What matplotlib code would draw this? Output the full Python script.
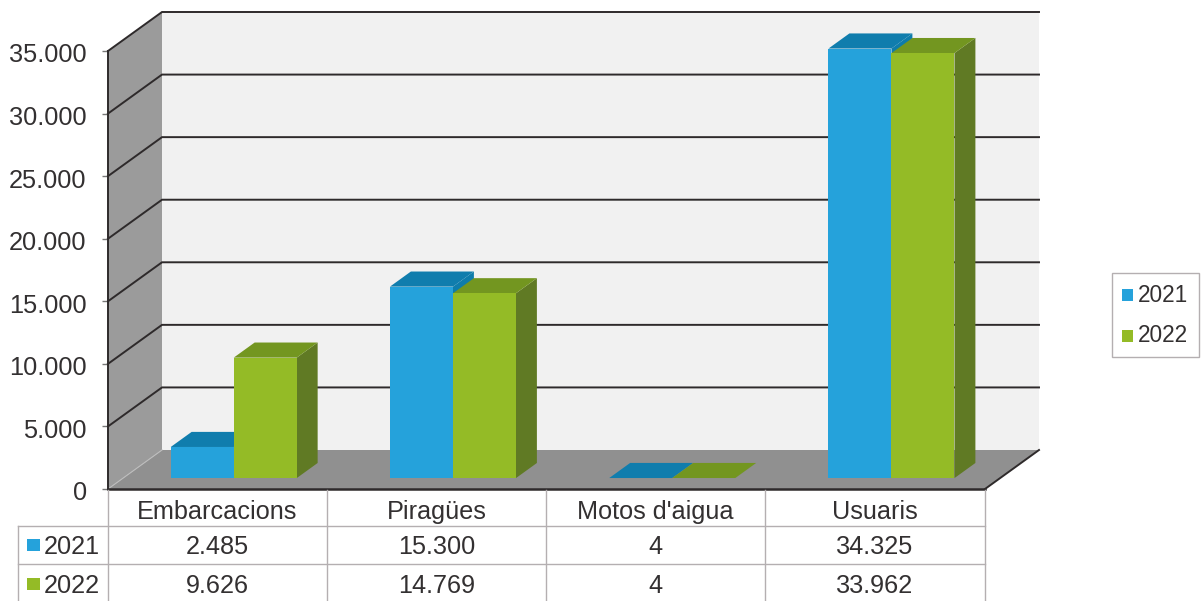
import matplotlib
matplotlib.use('Agg')
import matplotlib.pyplot as plt
from matplotlib.patches import Polygon, Rectangle
from matplotlib.transforms import Affine2D, ScaledTranslation

plt.rcParams['font.family'] = ['Liberation Sans', 'DejaVu Sans']

# data
categories = ['Embarcacions', 'Piragües', "Motos d'aigua", 'Usuaris']
years = ['2021', '2022']
values_2021 = [2485, 15300, 4, 34325]
values_2022 = [9626, 14769, 4, 33962]
yticks = [0, 5000, 10000, 15000, 20000, 25000, 30000, 35000]

blue = ['#25A2DB', '#107DAD', '#0E7CAB']
green = ['#94BB26', '#739620', '#607A24']
TXT = '#333031'
LINE = '#2E2A2B'
CELL = '#B4AFB1'


def fmt(v):
    return f'{v:,}'.replace(',', '.')


fig = plt.figure(figsize=(12.01, 6.01), dpi=100)
W, H = 1201, 601
# axes = front plane of the 3d box
ax = fig.add_axes([108 / W, 1 - 489 / H, 877 / W, 438 / H])
ax.set_xlim(0, 4)
ax.set_ylim(0, 35000)
ax.patch.set_visible(False)

# depth of the box in data units
UNIT = 877 / 4
DX = 54 / UNIT
DY = 39 / (438 / 35000)
BAR_W = 63 / UNIT
SHIFT = 1 / UNIT
D0, D1 = 0.28, 0.667


def pt(x, y, d=0.0):
    return (x + d * DX, y + d * DY)


def poly(points, color, z, ec='none', lw=0):
    ax.add_patch(Polygon(points, closed=True, fc=color, ec=ec, lw=lw, zorder=z,
                         clip_on=False))


# walls and floor
poly([pt(0, 0, 1), pt(4, 0, 1), pt(4, 35000, 1), pt(0, 35000, 1)], '#F1F1F1', 1)
poly([pt(0, 0), pt(0, 0, 1), pt(0, 35000, 1), pt(0, 35000)], '#9B9B9B', 1)
poly([pt(0, 0), pt(4, 0), pt(4, 0, 1), pt(0, 0, 1)], '#909090', 1)

for t in yticks[1:]:
    xs, ys = zip(pt(0, t), pt(0, t, 1), pt(4, t, 1))
    ax.plot(xs, ys, color=LINE, lw=1.4, zorder=2, clip_on=False, solid_joinstyle='miter')
xs, ys = zip(pt(0, 0), pt(0, 0, 1))
ax.plot(xs, ys, color='#BDBDBD', lw=0.8, zorder=2, clip_on=False)
xs, ys = zip(pt(4, 0), pt(4, 0, 1))
ax.plot(xs, ys, color=LINE, lw=1.4, zorder=2, clip_on=False)


# bars
def bar3d(x0, v, cols, z):
    x1 = x0 + BAR_W
    poly([pt(x1, 0, D0), pt(x1, 0, D1), pt(x1, v, D1), pt(x1, v, D0)], cols[2], z)
    poly([pt(x0, v, D0), pt(x1, v, D0), pt(x1, v, D1), pt(x0, v, D1)], cols[1], z)
    poly([pt(x0, 0, D0), pt(x1, 0, D0), pt(x1, v, D0), pt(x0, v, D0)], cols[0], z)


for i in range(len(categories)):
    bar3d(i + 0.5 - BAR_W + SHIFT, values_2021[i], blue, 3 + i * 0.1)
    bar3d(i + 0.5 + SHIFT, values_2022[i], green, 3.05 + i * 0.1)

# axes
for s in ['top', 'right']:
    ax.spines[s].set_visible(False)
for s in ['left', 'bottom']:
    ax.spines[s].set_color(LINE)
    ax.spines[s].set_zorder(5)
ax.spines['left'].set_linewidth(1.4)
ax.spines['bottom'].set_linewidth(1.8)
ax.set_xticks([])
ax.set_yticks(yticks)
ax.set_yticklabels([fmt(t) for t in yticks], fontsize=18.3, color=TXT)
ax.tick_params(axis='y', length=4.3, width=1, color='#777777', pad=11)
nudge = ScaledTranslation(0, -2 / 100, fig.dpi_scale_trans)
for lab in ax.get_yticklabels():
    lab.set_transform(lab.get_transform() + nudge)

# data table + legend, in image pixels
px = Affine2D().scale(1 / W, -1 / H).translate(0, 1) + fig.transFigure
col_x = [108, 327, 546, 765, 985]
row_y = [525.5, 564]


def line(x, y):
    fig.add_artist(plt.Line2D(x, y, color=CELL, lw=1.0, transform=px))


for x in col_x:
    line([x, x], [490, H])
line([18, 18], [525.5, H])
for y in row_y:
    line([18, 985], [y, y])

cx = [(col_x[i] + col_x[i + 1]) / 2 for i in range(4)]
for i, c in enumerate(categories):
    fig.text(cx[i], 512, c, transform=px, fontsize=18.2, color=TXT, ha='center', va='center')
    fig.text(cx[i], 547, fmt(values_2021[i]), transform=px, fontsize=18.2, color=TXT,
             ha='center', va='center')
    fig.text(cx[i], 586, fmt(values_2022[i]), transform=px, fontsize=18.2, color=TXT,
             ha='center', va='center')

for year, col, y in zip(years, [blue[0], green[0]], [545, 584]):
    fig.add_artist(Rectangle((27, y - 6), 13, 12, fc=col, ec='none', transform=px))
    fig.text(44, y + 2, year, transform=px, fontsize=18.2, color=TXT, va='center')

fig.add_artist(Rectangle((1112, 273), 87, 84, fc='white', ec=CELL, lw=1.0, transform=px))
for year, col, y in zip(years, [blue[0], green[0]], [295, 336]):
    fig.add_artist(Rectangle((1122, y - 6), 11, 12, fc=col, ec='none', transform=px))
    fig.text(1138, y, year, transform=px, fontsize=16.3, color=TXT, va='center')

fig.savefig('out.png', dpi=100)
